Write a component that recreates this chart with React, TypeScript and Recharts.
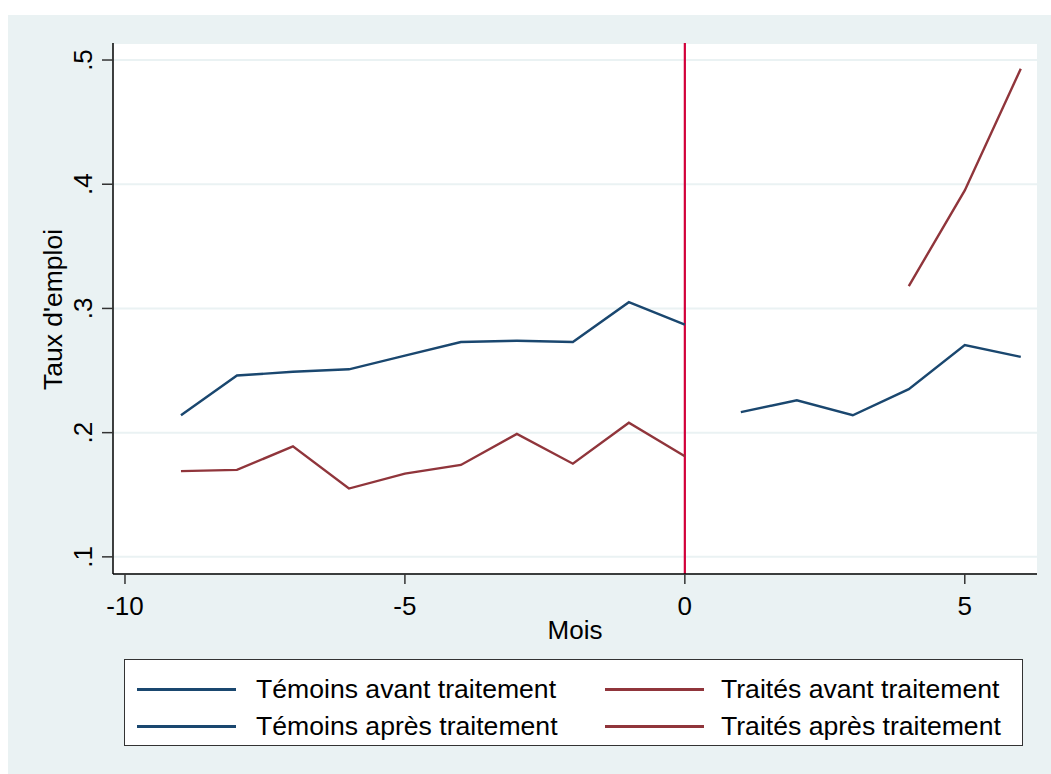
import React from "react";
import {
  LineChart,
  Line,
  XAxis,
  YAxis,
  CartesianGrid,
  ReferenceLine,
} from "recharts";

// Mois avant / après le traitement
const moisAvant = [-9, -8, -7, -6, -5, -4, -3, -2, -1, 0];
const moisApres = [1, 2, 3, 4, 5, 6];

// Taux d'emploi
const temoinsAvant = [0.214, 0.246, 0.249, 0.251, 0.262, 0.273, 0.274, 0.273, 0.305, 0.287];
const traitesAvant = [0.169, 0.17, 0.189, 0.155, 0.167, 0.174, 0.199, 0.175, 0.208, 0.181];
const temoinsApres = [0.2165, 0.226, 0.214, 0.235, 0.2705, 0.261];
const traitesApres = [null, null, null, 0.318, 0.395, 0.493];

const xTicks = [-10, -5, 0, 5];
const yTicks = [0.1, 0.2, 0.3, 0.4, 0.5];

const BLEU = "#1A476F";
const BORDEAUX = "#90353B";
const ROUGE = "#D2003A";
const FOND = "#EAF2F3";
const POLICE = "'Liberation Sans', Arial, sans-serif";

const legende = [
  { nom: "Témoins avant traitement", couleur: BLEU },
  { nom: "Traités avant traitement", couleur: BORDEAUX },
  { nom: "Témoins après traitement", couleur: BLEU },
  { nom: "Traités après traitement", couleur: BORDEAUX },
];

const data = [
  ...moisAvant.map((m, i) => ({
    mois: m,
    temoinsAvant: temoinsAvant[i],
    traitesAvant: traitesAvant[i],
  })),
  ...moisApres.map((m, i) => ({
    mois: m,
    temoinsApres: temoinsApres[i],
    traitesApres: traitesApres[i],
  })),
];

const YTick = ({ x, y, payload }: any) => (
  <text
    x={x}
    y={y}
    transform={`rotate(-90, ${x}, ${y})`}
    textAnchor="middle"
    fontSize={26}
    fontFamily={POLICE}
    fill="#000"
  >
    {"." + Math.round(payload.value * 10)}
  </text>
);

export default function App() {
  return (
    <div
      style={{
        position: "fixed",
        left: 8,
        top: 15,
        width: 1043,
        height: 759,
        background: FOND,
        fontFamily: POLICE,
      }}
    >
      <LineChart
        width={1043}
        height={759}
        data={data}
        margin={{ top: 28, right: 14, bottom: 140, left: 25 }}
      >
        <CartesianGrid
          vertical={false}
          stroke={FOND}
          strokeWidth={2}
          fill="#fff"
          fillOpacity={1}
        />
        <XAxis
          type="number"
          dataKey="mois"
          domain={[-10.214, 6.29]}
          ticks={xTicks}
          allowDataOverflow
          height={60}
          tickSize={10}
          tickMargin={13}
          axisLine={{ stroke: "#000", strokeWidth: 1.5 }}
          tickLine={{ stroke: "#333", strokeWidth: 1.5 }}
          tick={{ fontSize: 26, fontFamily: POLICE, fill: "#000" }}
          label={{
            content: ({ viewBox }: any) => (
              <text
                x={viewBox.x + viewBox.width / 2}
                y={viewBox.y + 65}
                textAnchor="middle"
                fontSize={26}
                fontFamily={POLICE}
                fill="#000"
              >
                Mois
              </text>
            ),
          }}
        />
        <YAxis
          type="number"
          domain={[0.0862, 0.5137]}
          ticks={yTicks}
          allowDataOverflow
          width={80}
          tickSize={11}
          tickMargin={10}
          axisLine={{ stroke: "#000", strokeWidth: 1.5 }}
          tickLine={{ stroke: "#333", strokeWidth: 1.5 }}
          tick={<YTick />}
          label={{
            content: ({ viewBox }: any) => {
              const lx = viewBox.x + 29;
              const ly = viewBox.y + viewBox.height / 2 + 1;
              return (
                <text
                  x={lx}
                  y={ly}
                  transform={`rotate(-90, ${lx}, ${ly})`}
                  textAnchor="middle"
                  fontSize={26.5}
                  fontFamily={POLICE}
                  fill="#000"
                >
                  Taux d'emploi
                </text>
              );
            },
          }}
        />
        <ReferenceLine x={0} stroke={ROUGE} strokeWidth={2.2} />
        <Line dataKey="temoinsAvant" stroke={BLEU} strokeWidth={2.4} dot={false} activeDot={false} isAnimationActive={false} />
        <Line dataKey="traitesAvant" stroke={BORDEAUX} strokeWidth={2.4} dot={false} activeDot={false} isAnimationActive={false} />
        <Line dataKey="temoinsApres" stroke={BLEU} strokeWidth={2.4} dot={false} activeDot={false} isAnimationActive={false} />
        <Line dataKey="traitesApres" stroke={BORDEAUX} strokeWidth={2.4} dot={false} activeDot={false} isAnimationActive={false} />
      </LineChart>

      {/* Légende */}
      <div
        style={{
          position: "absolute",
          left: 116,
          top: 644,
          width: 897,
          height: 85,
          background: "#fff",
          border: "1px solid #333",
        }}
      >
        {legende.map((l, i) => {
          const col = i % 2;
          const row = Math.floor(i / 2);
          const cy = row === 0 ? 29 : 66;
          return (
            <React.Fragment key={l.nom}>
              <div
                style={{
                  position: "absolute",
                  left: col === 0 ? 12 : 480,
                  top: cy - 1,
                  width: 99,
                  height: 2.5,
                  background: l.couleur,
                }}
              />
              <div
                style={{
                  position: "absolute",
                  left: col === 0 ? 131 : 596,
                  top: cy - 16,
                  height: 32,
                  lineHeight: "32px",
                  fontSize: 26.6,
                  color: "#000",
                  whiteSpace: "nowrap",
                }}
              >
                {l.nom}
              </div>
            </React.Fragment>
          );
        })}
      </div>
    </div>
  );
}
